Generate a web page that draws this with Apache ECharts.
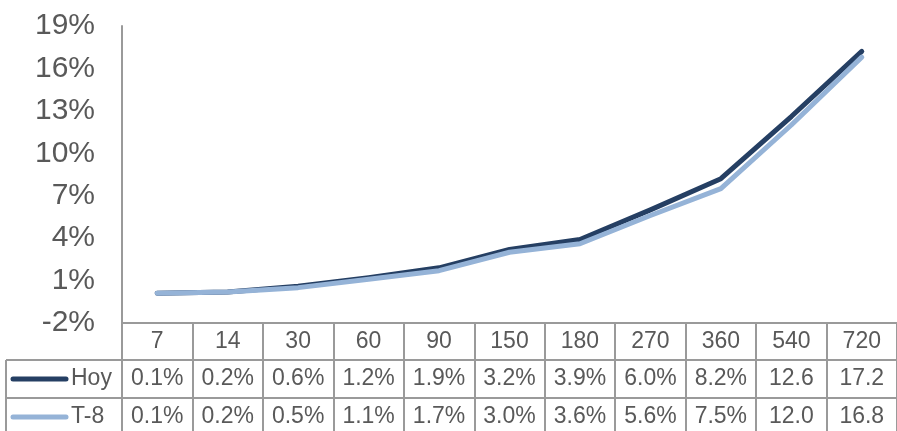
<!DOCTYPE html>
<html>
<head>
<meta charset="utf-8">
<script src="https://cdn.jsdelivr.net/npm/echarts@6/dist/echarts.min.js"></script>
<style>
  html, body { margin: 0; padding: 0; background: #fff; }
  #main { width: 897px; height: 431px; }
</style>
</head>
<body>
<div id="main"></div>
<script>
// plazos (días)
var plazos = ['7', '14', '30', '60', '90', '150', '180', '270', '360', '540', '720'];
var hoy = [0.1, 0.2, 0.6, 1.2, 1.9, 3.2, 3.9, 6.0, 8.2, 12.6, 17.2];
var t8 = [0.1, 0.2, 0.5, 1.1, 1.7, 3.0, 3.6, 5.6, 7.5, 12.0, 16.8];
var yTicks = [-2, 1, 4, 7, 10, 13, 16, 19];

var seriesNames = ['Hoy', 'T-8'];
var colors = ['#253F63', '#95B3D7'];

var FONT = 'Liberation Sans, Arial, sans-serif';
var TXT = '#595959';
var BORDER = '#9A9A9A';

// la tabla corta el texto en la celda: >=10 sin "%"
function cell(v) {
    return v < 10 ? v.toFixed(1) + '%' : v.toFixed(1);
}

function tableAxis(offset, values, showLine) {
    return {
        type: 'category',
        data: plazos,
        position: 'bottom',
        offset: offset,
        boundaryGap: true,
        axisLine: {show: showLine, onZero: false, lineStyle: {color: BORDER, width: 2}},
        axisTick: {show: false},
        axisLabel: {
            color: TXT, fontFamily: FONT, fontSize: 23, margin: 7,
            interval: 0,
            formatter: function (v, i) { return values ? cell(values[i]) : v; }
        }
    };
}

var chart = echarts.init(document.getElementById('main'));

var mainX = tableAxis(0, null, true);
mainX.axisTick = {show: true, length: 113, lineStyle: {color: BORDER, width: 2}};

var option = {
    animation: false,
    grid: {left: 122, top: 26, width: 780, bottom: 108, containLabel: false},
    xAxis: [mainX, tableAxis(37, hoy, false), tableAxis(75, t8, false)],
    yAxis: {
        type: 'value',
        min: -2,
        max: 19,
        splitLine: {show: false},
        axisTick: {show: false},
        axisLine: {show: true, lineStyle: {color: BORDER, width: 2}},
        axisLabel: {
            color: TXT, fontFamily: FONT, fontSize: 30, margin: 27,
            customValues: yTicks,
            formatter: function (v) { return v + '%'; }
        }
    },
    series: [
        {
            name: seriesNames[0], type: 'line', data: hoy, showSymbol: false,
            lineStyle: {color: colors[0], width: 5, cap: 'round', join: 'round'}
        },
        {
            name: seriesNames[1], type: 'line', data: t8, showSymbol: false,
            lineStyle: {color: colors[1], width: 5, cap: 'round', join: 'round'}
        }
    ]
};
chart.setOption(option);

// bordes y leyenda de la tabla
var rowTop = [360, 398];
var graphics = [];
rowTop.forEach(function (y, i) {
    graphics.push({
        type: 'line', shape: {x1: 6, y1: y, x2: 897, y2: y},
        style: {stroke: BORDER, lineWidth: 2}
    });
    graphics.push({
        type: 'line', shape: {x1: 13, y1: y + 19, x2: 66, y2: y + 19},
        style: {stroke: colors[i], lineWidth: 5, lineCap: 'round'}
    });
    graphics.push({
        type: 'text', x: 71, y: y + 19,
        style: {text: seriesNames[i], fill: TXT, font: '23px ' + FONT, verticalAlign: 'middle'}
    });
});
graphics.push({
    type: 'line', shape: {x1: 6, y1: 360, x2: 6, y2: 431},
    style: {stroke: BORDER, lineWidth: 2}
});
graphics.push({
    type: 'line', shape: {x1: 122, y1: 323, x2: 122, y2: 431},
    style: {stroke: BORDER, lineWidth: 2}
});
chart.setOption({graphic: graphics});
</script>
</body>
</html>
